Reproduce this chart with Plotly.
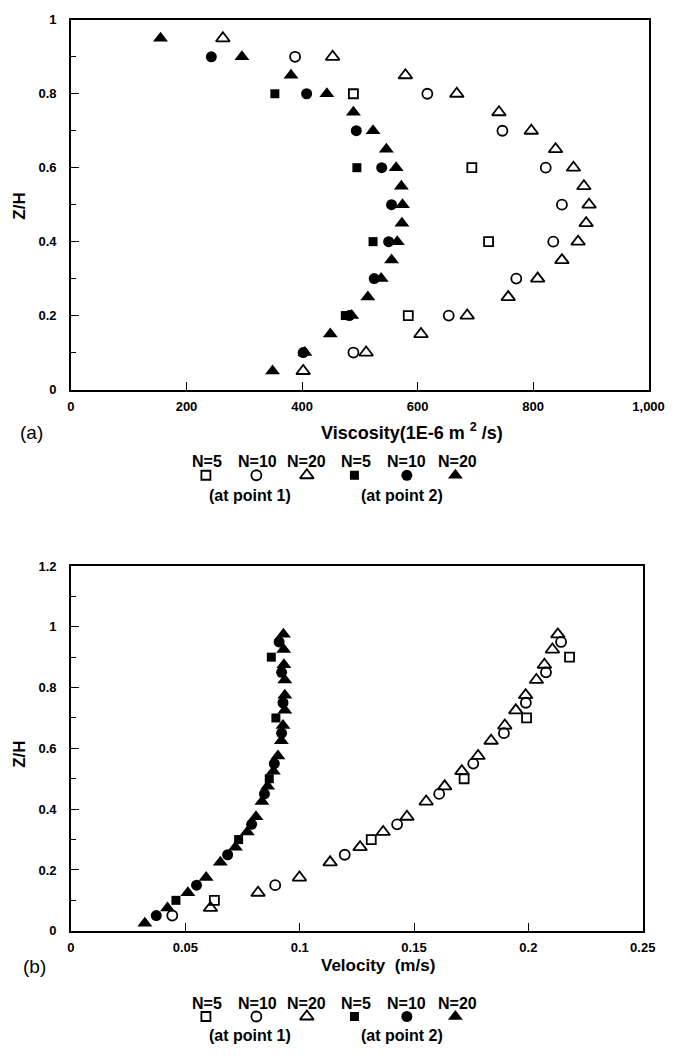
import plotly.graph_objects as go

W, H = 683, 1059

# ---------------- Panel (a): eddy viscosity (1E-6 m2/s) vs Z/H ----------------
z_n5 = [0.2, 0.4, 0.6, 0.8]
z_n10 = [0.1, 0.2, 0.3, 0.4, 0.5, 0.6, 0.7, 0.8, 0.9]
z_n20 = [0.05, 0.1, 0.15, 0.2, 0.25, 0.3, 0.35, 0.4, 0.45, 0.5,
         0.55, 0.6, 0.65, 0.7, 0.75, 0.8, 0.85, 0.9, 0.95]

visc_p1_n5 = [584, 723, 694, 489]
visc_p1_n10 = [489, 654, 771, 835, 850, 822, 747, 617, 388]
visc_p1_n20 = [402, 511, 606, 686, 757, 808, 850, 878, 892, 897,
               888, 870, 839, 797, 741, 668, 579, 453, 263]
visc_p2_n5 = [475, 523, 495, 353]
visc_p2_n10 = [402, 482, 525, 550, 555, 538, 494, 408, 243]
visc_p2_n20 = [349, 405, 449, 486, 514, 537, 555, 565, 573, 574,
               572, 563, 546, 523, 489, 443, 381, 296, 155]

# ---------------- Panel (b): velocity (m/s) vs Z/H ----------------
zb_p1_n5 = [0.1, 0.3, 0.5, 0.7, 0.9]
zb_p1_n10 = [0.05, 0.15, 0.25, 0.35, 0.45, 0.55, 0.65, 0.75, 0.85, 0.95]
zb_p1_n20 = [0.075, 0.125, 0.175, 0.225, 0.275, 0.325, 0.375, 0.425, 0.475, 0.525,
             0.575, 0.625, 0.675, 0.725, 0.775, 0.825, 0.875, 0.925, 0.975]
zb_p2_n20 = [0.025, 0.075, 0.125, 0.175, 0.225, 0.275, 0.325, 0.375, 0.425, 0.475,
             0.525, 0.575, 0.625, 0.675, 0.725, 0.775, 0.825, 0.875, 0.925, 0.975]

vel_p1_n5 = [0.0627, 0.1313, 0.1719, 0.1992, 0.218]
vel_p1_n10 = [0.0443, 0.0893, 0.1197, 0.1426, 0.161, 0.1759, 0.1893, 0.1989, 0.2077, 0.2143]
vel_p1_n20 = [0.061, 0.0818, 0.0999, 0.1133, 0.1264, 0.1365, 0.1469, 0.1553, 0.1634, 0.1709,
              0.178, 0.1837, 0.1897, 0.1945, 0.1988, 0.2035, 0.207, 0.2105, 0.2129]
vel_p2_n5 = [0.0459, 0.0733, 0.0867, 0.0896, 0.0876]
vel_p2_n10 = [0.0373, 0.0549, 0.0685, 0.079, 0.0846, 0.0889, 0.0921, 0.0927, 0.0921, 0.091]
vel_p2_n20 = [0.0323, 0.0422, 0.0511, 0.0591, 0.0653, 0.0719, 0.0771, 0.0809, 0.0835, 0.086,
              0.0885, 0.0905, 0.092, 0.0927, 0.0935, 0.0935, 0.0935, 0.0931, 0.093, 0.0929]

legend_labels = ["N=5", "N=10", "N=20", "N=5", "N=10", "N=20"]
group_labels = ["(at point 1)", "(at point 2)"]

ticks_a_x = [0, 200, 400, 600, 800, 1000]
ticks_a_x_text = ["0", "200", "400", "600", "800", "1,000"]
ticks_a_y = [0, 0.2, 0.4, 0.6, 0.8, 1.0]
ticks_a_y_text = ["0", "0.2", "0.4", "0.6", "0.8", "1"]
ticks_b_x = [0, 0.05, 0.1, 0.15, 0.2, 0.25]
ticks_b_x_text = ["0", "0.05", "0.1", "0.15", "0.2", "0.25"]
ticks_b_y = [0, 0.2, 0.4, 0.6, 0.8, 1.0, 1.2]
ticks_b_y_text = ["0", "0.2", "0.4", "0.6", "0.8", "1", "1.2"]

# ---------------- styles ----------------
BLACK = "#000000"
STY = {
    "p1_n5": dict(symbol="square-open", size=9, color=BLACK, line=dict(width=1.8, color=BLACK)),
    "p1_n10": dict(symbol="circle-open", size=10, color=BLACK, line=dict(width=1.8, color=BLACK)),
    "p1_n20": dict(symbol="triangle-up-open", size=12, color=BLACK, line=dict(width=1.8, color=BLACK)),
    "p2_n5": dict(symbol="square", size=9, color=BLACK, line=dict(width=0)),
    "p2_n10": dict(symbol="circle", size=11, color=BLACK, line=dict(width=0)),
    "p2_n20": dict(symbol="triangle-up", size=13, color=BLACK, line=dict(width=0)),
}
order = ["p1_n5", "p1_n10", "p1_n20", "p2_n5", "p2_n10", "p2_n20"]

fig = go.Figure()

a_data = {
    "p1_n5": (visc_p1_n5, z_n5), "p1_n10": (visc_p1_n10, z_n10), "p1_n20": (visc_p1_n20, z_n20),
    "p2_n5": (visc_p2_n5, z_n5), "p2_n10": (visc_p2_n10, z_n10), "p2_n20": (visc_p2_n20, z_n20),
}
b_data = {
    "p1_n5": (vel_p1_n5, zb_p1_n5), "p1_n10": (vel_p1_n10, zb_p1_n10), "p1_n20": (vel_p1_n20, zb_p1_n20),
    "p2_n5": (vel_p2_n5, zb_p1_n5), "p2_n10": (vel_p2_n10, zb_p1_n10), "p2_n20": (vel_p2_n20, zb_p2_n20),
}
for k in order:
    x, y = a_data[k]
    fig.add_trace(go.Scatter(x=x, y=y, mode="markers", marker=STY[k], xaxis="x", yaxis="y",
                             showlegend=False, cliponaxis=False))
for k in order:
    x, y = b_data[k]
    fig.add_trace(go.Scatter(x=x, y=y, mode="markers", marker=STY[k], xaxis="x2", yaxis="y2",
                             showlegend=False, cliponaxis=False))

# legend marker positions (pixel overlay axis)
leg_x = [208, 260, 312, 361, 415, 465]
leg_text_x = [209, 261, 312, 363, 415, 467]
for panel_y in [475, 1024]:
    for i, k in enumerate(order):
        fig.add_trace(go.Scatter(x=[leg_x[i]], y=[panel_y], mode="markers", marker=STY[k],
                                 xaxis="x3", yaxis="y3", showlegend=False, cliponaxis=False))

tickfont = dict(family="Liberation Sans, Arial, sans-serif", size=13, color=BLACK, weight="bold")
axis_common = dict(showline=True, linecolor=BLACK, linewidth=1.6, mirror=True, showgrid=False,
                   zeroline=False, ticks="inside", ticklen=8, tickwidth=1.3, tickcolor=BLACK,
                   tickfont=tickfont)

def px_x(p):
    return p / W

def px_y(p):
    return 1 - p / H

fig.update_layout(
    width=W, height=H,
    margin=dict(l=0, r=0, t=0, b=0),
    paper_bgcolor="white", plot_bgcolor="rgba(0,0,0,0)",
    showlegend=False,
    xaxis=dict(domain=[px_x(69), px_x(664)], range=[0, 1000], anchor="y",
               tickvals=ticks_a_x, ticktext=ticks_a_x_text, ticklabelstandoff=4, **axis_common),
    yaxis=dict(domain=[px_y(388), px_y(13)], range=[0, 1], anchor="x",
               tickvals=ticks_a_y, ticktext=ticks_a_y_text, ticklabelstandoff=10,
               minor=dict(tickvals=[0.1, 0.3, 0.5, 0.7, 0.9], ticks="inside", ticklen=5,
                          tickwidth=1.2, tickcolor=BLACK),
               **axis_common),
    xaxis2=dict(domain=[px_x(69), px_x(658)], range=[0, 0.25], anchor="y2",
                tickvals=ticks_b_x, ticktext=ticks_b_x_text, ticklabelstandoff=4, **axis_common),
    yaxis2=dict(domain=[px_y(937), px_y(567)], range=[0, 1.2], anchor="x2",
                tickvals=ticks_b_y, ticktext=ticks_b_y_text, ticklabelstandoff=10,
                minor=dict(tickvals=[0.1, 0.3, 0.5, 0.7, 0.9, 1.1], ticks="inside", ticklen=5,
                           tickwidth=1.2, tickcolor=BLACK),
                **axis_common),
    xaxis3=dict(domain=[0, 1], range=[0, W], visible=False, anchor="y3", fixedrange=True),
    yaxis3=dict(domain=[0, 1], range=[H, 0], visible=False, anchor="x3", fixedrange=True),
)

ann = []
title_font = dict(family="Liberation Sans, Arial, sans-serif", size=17, color=BLACK, weight="bold")
visc_font = dict(family="Liberation Sans, Arial, sans-serif", size=18, color=BLACK, weight="bold")
leg_font = dict(family="Liberation Sans, Arial, sans-serif", size=16, color=BLACK, weight="bold")
lab_font = dict(family="Liberation Sans, Arial, sans-serif", size=19, color=BLACK)

# y titles
for yc in [202, 758]:
    ann.append(dict(text="Z/H", x=px_x(16), y=px_y(yc), xref="paper", yref="paper",
                    showarrow=False, textangle=-90, font=title_font, xanchor="center", yanchor="middle"))
# x titles
ann.append(dict(text="Viscosity(1E-6 m <sup>2</sup> /s)", x=px_x(324), y=px_y(431), xref="paper", yref="paper",
                showarrow=False, font=visc_font, xanchor="left", yanchor="middle"))
ann.append(dict(text="Velocity  (m/s)", x=px_x(324), y=px_y(972), xref="paper", yref="paper",
                showarrow=False, font=title_font, xanchor="left", yanchor="middle"))
# panel labels
ann.append(dict(text="(a)", x=px_x(28), y=px_y(432), xref="paper", yref="paper",
                showarrow=False, font=lab_font, xanchor="center", yanchor="middle"))
ann.append(dict(text="(b)", x=px_x(31), y=px_y(973), xref="paper", yref="paper",
                showarrow=False, font=lab_font, xanchor="center", yanchor="middle"))
# legends
for text_y, group_y in [(461, 496), (1011, 1043)]:
    for i, lbl in enumerate(legend_labels):
        ann.append(dict(text=lbl, x=px_x(leg_text_x[i]), y=px_y(text_y), xref="paper", yref="paper",
                        showarrow=False, font=leg_font, xanchor="center", yanchor="middle"))
    for gx, glbl in zip([253, 410], group_labels):
        ann.append(dict(text=glbl, x=px_x(gx), y=px_y(group_y), xref="paper", yref="paper",
                        showarrow=False, font=leg_font, xanchor="center", yanchor="middle"))

fig.update_layout(annotations=ann)
fig.write_html("out.html")
